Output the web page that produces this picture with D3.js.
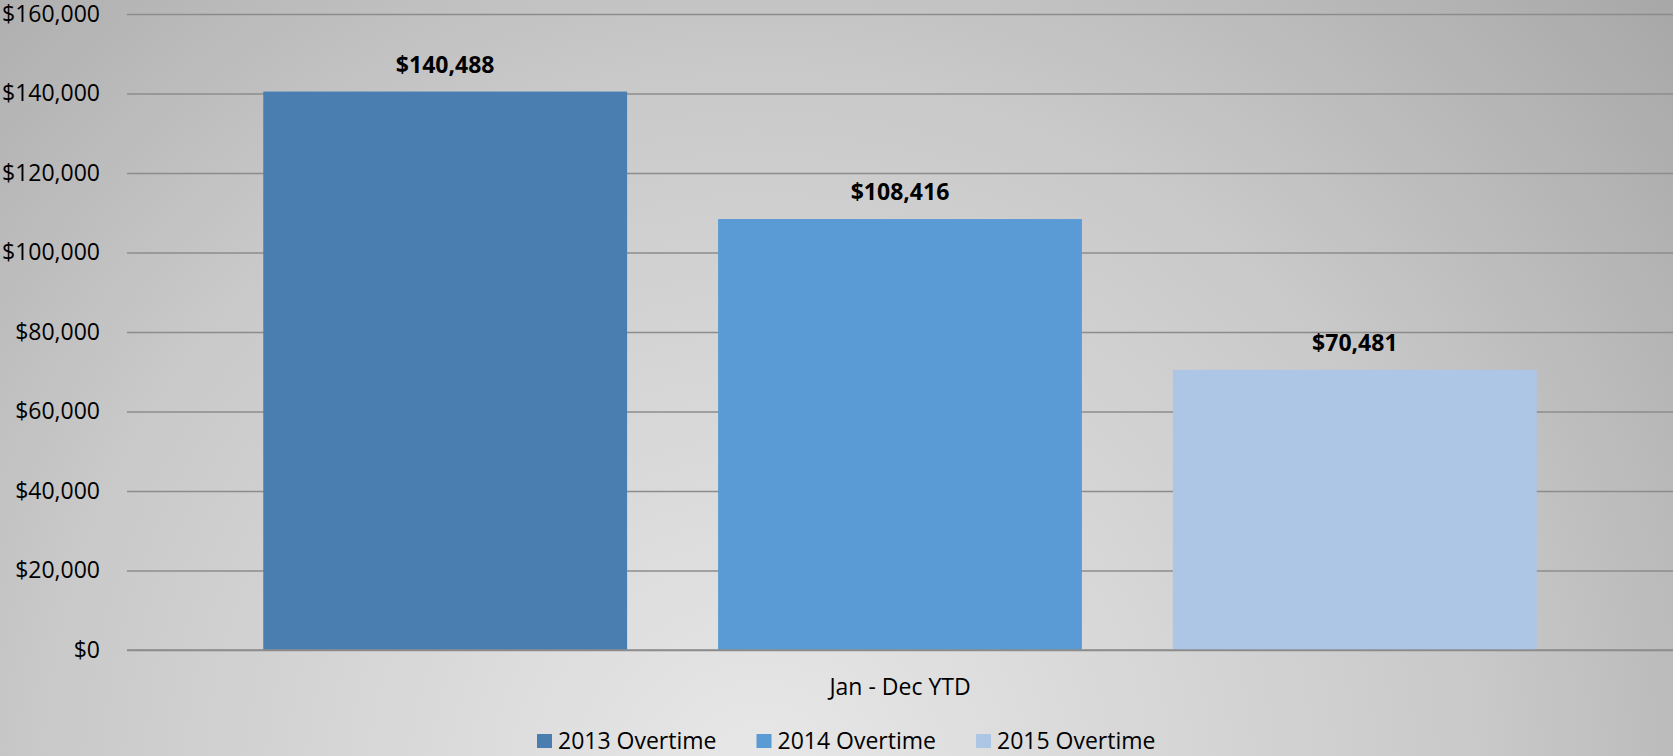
<!DOCTYPE html>
<html>
<head>
<meta charset="utf-8">
<script src="https://cdn.jsdelivr.net/npm/d3@7"></script>
<style>
  html, body { margin: 0; padding: 0; overflow: hidden; }
  svg text { font-family: "Open Sans", sans-serif; fill: #000; }
</style>
</head>
<body>
<svg width="1673" height="756"></svg>
<script>
// data
var categories = ["Jan - Dec YTD"];
var series = ["2013 Overtime", "2014 Overtime", "2015 Overtime"];
var values = [140488, 108416, 70481];
var colors = ["#4a7eb0", "#5b9bd5", "#adc6e6"];
var ticks = [0, 20000, 40000, 60000, 80000, 100000, 120000, 140000, 160000];

var svg = d3.select("svg"),
	width = +svg.attr("width"),
	height = +svg.attr("height");

// background gradient
var defs = svg.append("defs");
var grad = defs.append("radialGradient")
	.attr("id", "bg")
	.attr("gradientUnits", "userSpaceOnUse")
	.attr("cx", 760).attr("cy", 790).attr("r", 1200);
grad.append("stop").attr("offset", 0).attr("stop-color", "#e8e8e8");
grad.append("stop").attr("offset", 0.6).attr("stop-color", "#c9c9c9");
grad.append("stop").attr("offset", 1).attr("stop-color", "#a8a8a8");
svg.append("rect").attr("width", width).attr("height", height).attr("fill", "url(#bg)");

// scales
var yScale = d3.scaleLinear().domain([0, 160000]).range([650, 14]);
var x0 = d3.scaleBand().domain(categories).range([127, width]).paddingOuter(0.107);
var x1 = d3.scaleBand().domain(series).range([0, x0.bandwidth()]).paddingInner(0.2);

var fmt = d3.format("$,.0f");

// gridlines + y labels
var yAxis = svg.append("g")
	.attr("transform", "translate(127,0)")
	.call(d3.axisLeft(yScale).tickValues(ticks).tickFormat(fmt).tickSize(-(width - 127)).tickPadding(27));
yAxis.select(".domain").remove();
yAxis.selectAll(".tick line").attr("stroke", "#8c8c8c").attr("stroke-width", 1.5);
yAxis.selectAll(".tick text").attr("font-size", 23).attr("font-family", "Open Sans").attr("fill", "#000");

// bars
var g = svg.append("g").attr("transform", "translate(" + x0(categories[0]) + ",0)");
g.selectAll(".bar")
	.data(values)
	.enter().append("rect")
	.attr("class", "bar")
	.attr("x", (d, i) => x1(series[i]))
	.attr("y", d => yScale(d))
	.attr("width", x1.bandwidth())
	.attr("height", d => yScale(0) - yScale(d))
	.attr("fill", (d, i) => colors[i]);

// value labels
g.selectAll(".lbl")
	.data(values)
	.enter().append("text")
	.attr("x", (d, i) => x1(series[i]) + x1.bandwidth() / 2)
	.attr("y", d => yScale(d) - 27)
	.attr("dy", "0.35em")
	.attr("text-anchor", "middle")
	.attr("font-size", 23)
	.attr("font-weight", "bold")
	.text(d => fmt(d));

// baseline redrawn over bars
svg.append("line")
	.attr("x1", 127).attr("x2", width)
	.attr("y1", yScale(0)).attr("y2", yScale(0))
	.attr("stroke", "#8c8c8c").attr("stroke-width", 1.5);

// category label
svg.append("text")
	.attr("x", x0(categories[0]) + x0.bandwidth() / 2)
	.attr("y", 687)
	.attr("dy", "0.35em")
	.attr("text-anchor", "middle")
	.attr("font-size", 23)
	.text(categories[0]);

// legend
var legend = svg.append("g").attr("transform", "translate(537,741)");
var item = legend.selectAll(".item")
	.data(series)
	.enter().append("g")
	.attr("transform", (d, i) => "translate(" + (i * 219.5) + ",0)");
item.append("rect")
	.attr("x", 0).attr("y", -7)
	.attr("width", 15).attr("height", 14)
	.attr("fill", (d, i) => colors[i]);
item.append("text")
	.attr("x", 21)
	.attr("dy", "0.35em")
	.attr("font-size", 23)
	.text(d => d);
</script>
</body>
</html>
